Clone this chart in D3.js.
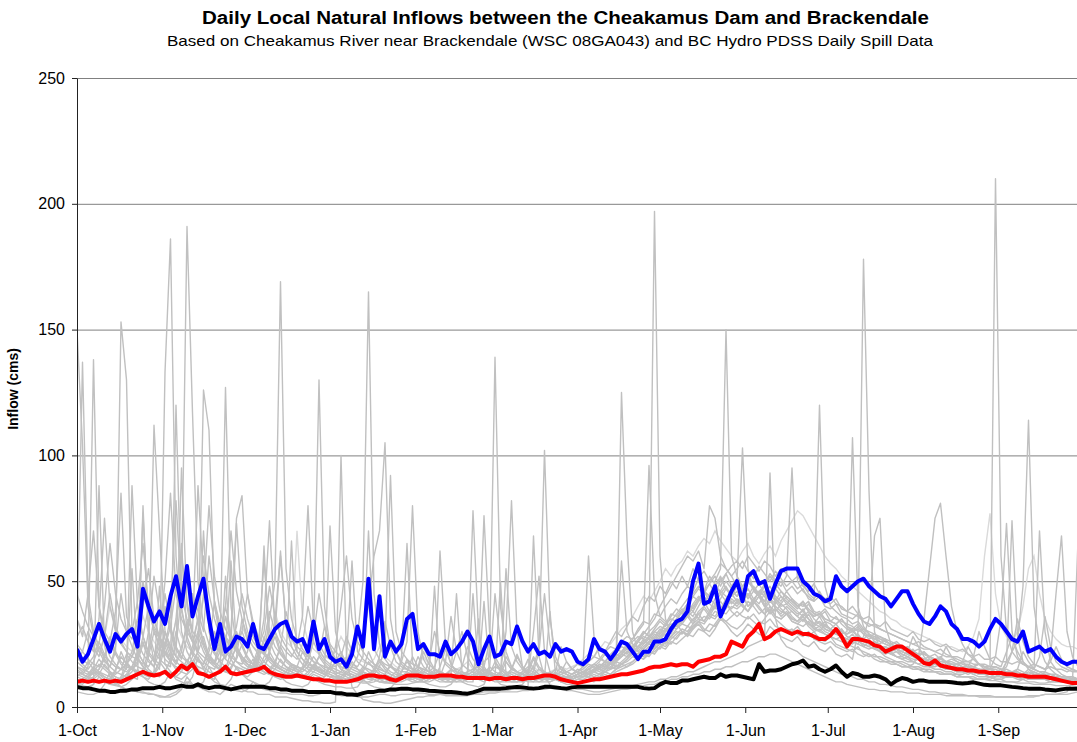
<!DOCTYPE html>
<html>
<head>
<meta charset="utf-8">
<script src="https://cdn.jsdelivr.net/npm/d3@7"></script>
<style>
  body { margin: 0; background: #fff; }
  svg text { font-family: "Liberation Sans", Arial, sans-serif; }
</style>
</head>
<body>
<svg id="chart" width="1077" height="742"></svg>
<script>
// water year Oct 1 .. Sep 30, values read every 2nd day (day 0, 2, 4 ... 364)
const step = 2
const monthDays = [0, 31, 61, 92, 123, 151, 182, 212, 243, 273, 304, 335]
const monthLabels = ['1-Oct', '1-Nov', '1-Dec', '1-Jan', '1-Feb', '1-Mar', '1-Apr', '1-May', '1-Jun', '1-Jul', '1-Aug', '1-Sep']
const yTicks = [0, 50, 100, 150, 200, 250]

const blueSeries = [
  23, 18, 21, 27, 33, 27, 22, 29, 26, 29,
  31, 24, 47, 40, 34, 38, 33, 44, 52, 40,
  56, 36, 44, 51, 35, 23, 33, 22, 24, 28,
  27, 24, 33, 24, 23, 27, 31, 33, 34, 28,
  26, 27, 22, 34, 23, 27, 20, 18, 19, 16,
  21, 32, 24, 51, 23, 44, 20, 26, 22, 25,
  35, 37, 23, 25, 21, 21, 20, 26, 21, 23,
  26, 30, 26, 17, 23, 28, 20, 21, 26, 25,
  32, 26, 22, 25, 21, 22, 20, 25, 22, 23,
  22, 18, 17, 19, 27, 23, 22, 19, 22, 26,
  25, 22, 19, 22, 22, 26, 26, 27, 31, 34,
  35, 38, 50, 57, 41, 42, 48, 36, 41, 46,
  50, 42, 52, 54, 49, 50, 43, 49, 54, 55,
  55, 55, 50, 48, 45, 44, 42, 43, 52, 48,
  46, 48, 50, 51, 48, 46, 44, 43, 40, 43,
  46, 46, 41, 37, 34, 33, 36, 40, 38, 33,
  31, 27, 27, 26, 24, 26, 31, 35, 33, 30,
  27, 26, 30, 22, 23, 24, 22, 23, 20, 18,
  17, 18, 18
]

const redSeries = [
  10, 10.5, 10, 10.5, 10, 10.5, 10, 10.5, 10, 11,
  12, 13, 14, 13, 12.5, 13, 14, 12, 14, 16.5,
  15, 17, 13.5, 13, 12, 13, 14, 16, 13.5, 13,
  13.5, 14, 14.5, 15, 16, 14, 13, 12.5, 12, 12,
  12.5, 12, 11.5, 11, 11, 10.5, 10.5, 10, 10, 10,
  10.5, 11, 12, 12.5, 12.5, 12, 12, 11, 10.5, 11.5,
  12.5, 12.5, 12.5, 12, 12, 12, 12.5, 12.5, 12.5, 12,
  12, 11.5, 11.5, 11.5, 11.5, 11, 11.5, 11.5, 11, 11.5,
  11.5, 11, 11.5, 11.5, 12, 12.5, 12.5, 12, 11, 10.5,
  10, 9.5, 10, 10.5, 11, 11, 11.5, 12, 12.5, 13,
  13, 13.5, 14, 14.5, 15.5, 16, 16, 16.5, 17, 16.5,
  17, 17, 16, 18, 18.5, 19, 20, 20, 21, 26,
  25, 24, 28, 30, 33, 27, 28, 30, 31, 30,
  29, 30, 29, 29, 28, 27, 27, 28.5, 31, 28,
  24, 27, 27, 26.5, 26, 24.5, 24, 22, 23, 24,
  24, 22.5, 21, 19.5, 17.5, 17, 18.5, 16.5, 16, 15.5,
  15, 15, 14.5, 14.5, 14, 14, 13.5, 13.5, 13.5, 13,
  13, 12.5, 12.5, 12, 12, 12, 12, 11.5, 11, 10.5,
  10, 9.5, 9.5
]

const blackSeries = [
  8, 7.5, 7.5, 7, 6.5, 6.5, 6, 6, 6.5, 6.5,
  7, 7, 7.5, 7.5, 7.5, 8, 7.5, 7.5, 8, 8.5,
  8, 8, 9, 8, 7.5, 8, 8, 7.5, 7, 7.5,
  8, 8, 8, 8, 8, 7.5, 7.5, 7, 7, 6.5,
  6.5, 6.5, 6, 6, 6, 6, 6, 5.5, 5.5, 5,
  5, 4.8, 5.5, 6, 6, 6.5, 6.5, 7, 7, 7.3,
  7.3, 7, 7, 6.8, 6.5, 6.4, 6.2, 6, 6, 5.8,
  5.5, 5.3, 5.8, 6.5, 7.3, 7.3, 7.3, 7.3, 7.5, 7.8,
  8, 7.8, 7.5, 7.3, 7.5, 8, 8, 7.8, 7.5, 7.3,
  7.8, 8, 8, 8, 8, 8, 8, 8, 8, 8,
  8, 8, 8, 7.5, 7.3, 7.5, 9, 10, 9.5, 9.5,
  10.5, 10.5, 11, 11.5, 12, 11.5, 11.5, 13, 12, 12.5,
  12.5, 12, 11.5, 11, 17, 14, 14.5, 14.5, 15, 16,
  17, 17.5, 18.5, 16, 16.5, 15, 14, 15, 16.5, 14,
  12, 13.5, 13, 12, 12, 12.5, 12, 11, 9, 10.5,
  11.5, 11, 10, 10.5, 10.5, 10, 10, 10, 10, 9.8,
  9.5, 9.3, 9.5, 9.8, 9.3, 8.8, 8.6, 8.6, 8.6, 8.3,
  8, 7.8, 7.5, 7.3, 7.3, 7.3, 7, 6.8, 6.6, 7,
  7.3, 7.3, 7.3
]

// individual years (grey)
const year01 = [
  150, 104, 40, 28, 22, 18, 16, 24, 45, 30,
  24, 19, 17, 30, 52, 38, 27, 22, 35, 60,
  42, 30, 88, 50, 34, 26, 22, 19, 30, 75,
  84, 45, 32, 26, 22, 19, 17, 24, 38, 28,
  22, 19, 16, 15, 20, 32, 24, 18, 15, 14,
  13, 12, 15, 22, 17, 14, 13, 12, 11, 14,
  19, 15, 13, 12, 11, 12, 16, 23, 17, 14,
  13, 12, 11, 13, 42, 14, 12, 11, 12, 15,
  21, 16, 13, 12, 11, 12, 14, 13, 12, 11,
  11, 12, 13, 15, 14, 13, 15, 18, 16, 17,
  19, 22, 26, 30, 28, 197, 60, 35, 30, 33,
  36, 40, 38, 42, 46, 44, 48, 52, 47, 44,
  48, 45, 40, 42, 46, 44, 40, 38, 41, 39,
  36, 34, 37, 35, 32, 30, 33, 31, 29, 28,
  27, 29, 26, 25, 24, 26, 23, 22, 21, 22,
  20, 19, 18, 19, 17, 16, 17, 16, 15, 15,
  14, 14, 13, 14, 13, 13, 12, 12, 14, 18,
  22, 26, 48, 114, 40, 24, 18, 15, 13, 12,
  12, 11, 11
]
const year02 = [
  30, 137, 45, 30, 24, 20, 18, 16, 15, 17,
  22, 35, 28, 21, 18, 24, 40, 30, 23, 19,
  28, 45, 33, 25, 21, 18, 24, 36, 26, 73,
  40, 30, 26, 23, 21, 35, 50, 169, 55, 35,
  27, 23, 20, 18, 17, 16, 15, 18, 22, 17,
  15, 14, 13, 12, 14, 18, 15, 13, 12, 12,
  11, 12, 15, 13, 12, 11, 62, 25, 17, 14,
  13, 12, 12, 11, 12, 14, 13, 12, 11, 11,
  12, 13, 15, 14, 12, 11, 11, 12, 13, 12,
  12, 13, 14, 13, 15, 16, 18, 17, 19, 21,
  23, 22, 24, 27, 25, 28, 31, 30, 34, 37,
  40, 43, 45, 48, 46, 42, 50, 55, 150, 60,
  52, 48, 50, 47, 44, 46, 43, 41, 44, 42,
  40, 38, 36, 38, 35, 33, 31, 30, 29, 31,
  28, 27, 26, 25, 24, 23, 24, 22, 21, 20,
  19, 18, 18, 17, 16, 16, 15, 15, 14, 14,
  13, 13, 14, 13, 12, 12, 12, 11, 11, 12,
  13, 15, 22, 18, 15, 70, 30, 18, 15, 13,
  12, 12, 11
]
const year03 = [
  14, 13, 16, 138, 40, 26, 20, 17, 15, 14,
  16, 20, 26, 19, 16, 28, 45, 32, 24, 20,
  18, 22, 30, 24, 19, 17, 28, 40, 29, 22,
  19, 17, 16, 22, 35, 74, 30, 22, 19, 17,
  16, 15, 19, 26, 130, 40, 24, 19, 16, 15,
  14, 13, 12, 12, 13, 16, 14, 13, 12, 12,
  13, 12, 11, 11, 12, 15, 13, 12, 11, 11,
  12, 13, 14, 20, 76, 30, 18, 15, 13, 12,
  12, 11, 11, 12, 12, 11, 11, 11, 12, 12,
  12, 12, 13, 14, 14, 16, 17, 15, 18, 20,
  22, 21, 24, 23, 26, 29, 28, 31, 33, 32,
  35, 38, 36, 40, 44, 41, 39, 43, 47, 45,
  50, 103, 55, 46, 44, 48, 52, 49, 46, 44,
  42, 40, 41, 38, 36, 37, 34, 33, 31, 30,
  29, 30, 28, 27, 26, 25, 24, 24, 23, 22,
  21, 20, 19, 19, 18, 17, 17, 16, 16, 15,
  15, 14, 14, 13, 14, 13, 13, 12, 12, 12,
  12, 11, 11, 12, 13, 12, 14, 20, 45, 68,
  30, 20, 16
]
const year04 = [
  8, 7, 7, 9, 88, 25, 12, 9, 8, 7,
  7, 6, 6, 5, 5, 4, 4, 5, 6, 8,
  10, 9, 8, 7, 6, 6, 5, 7, 9, 8,
  7, 6, 6, 5, 5, 5, 4, 4, 4, 3.5,
  3, 2.5, 2.5, 2, 2, 1.5, 1.5, 2, 100, 20,
  8, 5, 3, 2.5, 2, 2, 1.5, 1.5, 2, 2.5,
  3, 3.5, 4, 4, 4.5, 4.5, 5, 5, 5, 5,
  5, 5, 5.5, 5.5, 6, 6, 6, 6.5, 6.5, 7,
  7, 7, 7.5, 68, 20, 12, 9, 8, 8, 7.5,
  7.5, 7, 7, 6.5, 6, 6, 6.5, 7, 7.5, 8,
  8, 8.5, 9, 9.5, 10, 10, 11, 11, 12, 12,
  13, 14, 14, 15, 16, 17, 18, 18, 19, 20,
  21, 22, 24, 25, 26, 27, 93, 35, 27, 24,
  23, 22, 20, 19, 18, 17, 16, 15, 14, 13,
  13, 12, 11, 11, 10, 10, 9, 9, 8.5, 8,
  8, 7.5, 7, 7, 6.5, 6, 6, 5.5, 5.5, 5,
  5, 5, 4.5, 4.5, 4.5, 4.5, 4.5, 4, 4, 4,
  4, 4, 4, 4, 4, 4.5, 5, 5, 5, 5.5,
  6, 10, 66
]
const year05 = [
  20, 17, 15, 18, 24, 19, 16, 22, 153, 130,
  30, 22, 18, 16, 20, 28, 22, 18, 16, 15,
  17, 24, 35, 26, 20, 18, 16, 15, 22, 30,
  24, 19, 17, 16, 18, 22, 28, 21, 18, 16,
  15, 14, 16, 20, 17, 15, 14, 13, 14, 18,
  24, 28, 50, 165, 45, 25, 19, 16, 14, 13,
  12, 12, 13, 15, 14, 12, 11, 11, 12, 13,
  14, 13, 12, 12, 13, 16, 14, 13, 12, 12,
  13, 14, 16, 15, 13, 12, 38, 13, 14, 13,
  12, 13, 14, 15, 17, 16, 18, 20, 19, 58,
  30, 25, 24, 26, 28, 27, 30, 33, 31, 35,
  38, 36, 40, 43, 41, 45, 48, 46, 50, 47,
  44, 48, 51, 47, 45, 49, 53, 50, 48, 52,
  95, 50, 46, 44, 42, 120, 48, 40, 38, 36,
  35, 33, 34, 31, 30, 29, 28, 27, 26, 25,
  24, 23, 22, 21, 21, 20, 19, 18, 18, 17,
  17, 16, 16, 15, 15, 14, 14, 14, 13, 13,
  13, 12, 13, 15, 14, 13, 12, 12, 11, 11,
  11, 10, 10
]
const year06 = [
  12, 11, 13, 16, 14, 12, 11, 15, 20, 17,
  15, 18, 25, 20, 112, 70, 30, 22, 18, 16,
  15, 20, 28, 22, 18, 16, 15, 14, 19, 24,
  20, 17, 15, 14, 16, 20, 17, 15, 14, 13,
  13, 12, 14, 17, 15, 13, 12, 12, 11, 13,
  16, 20, 28, 40, 60, 70, 105, 35, 22, 17,
  15, 14, 13, 12, 12, 13, 12, 11, 11, 12,
  11, 11, 12, 13, 12, 11, 12, 50, 13, 12,
  12, 11, 12, 13, 12, 12, 13, 12, 11, 12,
  12, 13, 14, 13, 15, 17, 16, 18, 21, 20,
  22, 24, 26, 29, 32, 35, 40, 44, 48, 52,
  56, 60, 58, 62, 55, 80, 75, 60, 55, 52,
  48, 45, 50, 47, 44, 42, 46, 43, 40, 41,
  39, 37, 38, 35, 33, 34, 32, 31, 30, 29,
  30, 107, 40, 32, 29, 27, 26, 25, 24, 23,
  22, 21, 20, 20, 19, 18, 18, 17, 16, 16,
  15, 15, 14, 14, 14, 13, 13, 13, 12, 12,
  12, 12, 11, 12, 11, 11, 11, 10, 10, 10,
  10, 10, 10
]
const year07 = [
  18, 16, 14, 13, 15, 20, 26, 21, 17, 15,
  88, 40, 28, 22, 19, 17, 30, 24, 20, 18,
  16, 18, 22, 28, 20, 17, 15, 14, 16, 19,
  25, 20, 17, 15, 14, 13, 15, 19, 16, 14,
  13, 12, 12, 14, 16, 14, 13, 12, 12, 11,
  11, 12, 14, 13, 12, 11, 11, 12, 14, 18,
  26, 80, 30, 19, 15, 13, 12, 12, 11, 11,
  12, 11, 11, 12, 13, 12, 11, 12, 13, 12,
  11, 12, 13, 12, 11, 11, 12, 13, 12, 12,
  13, 14, 13, 15, 16, 15, 17, 19, 18, 21,
  24, 27, 30, 33, 96, 45, 36, 34, 31, 33,
  30, 28, 31, 33, 30, 28, 31, 35, 33, 30,
  28, 30, 33, 31, 29, 28, 32, 30, 28, 27,
  26, 28, 25, 24, 26, 23, 22, 24, 21, 20,
  21, 19, 30, 178, 86, 30, 22, 20, 19, 18,
  18, 17, 16, 16, 15, 15, 14, 14, 13, 13,
  13, 12, 12, 12, 11, 11, 12, 11, 11, 10,
  10, 10, 11, 10, 10, 9.5, 9.5, 10, 11, 10,
  10, 9.5, 9.5
]
const year08 = [
  10, 9, 11, 14, 12, 10, 9, 9, 11, 13,
  12, 11, 80, 30, 18, 15, 133, 186, 60, 30,
  22, 18, 16, 15, 20, 17, 15, 14, 13, 13,
  13, 15, 19, 16, 14, 13, 12, 12, 14, 17,
  15, 13, 12, 11, 11, 10, 10, 11, 12, 11,
  10, 10, 9.5, 9.5, 10, 11, 10, 9.5, 9, 9,
  9, 9.5, 10, 10, 11, 12, 11, 10, 10, 11,
  12, 14, 78, 30, 16, 13, 12, 11, 11, 10,
  10, 10, 11, 11, 10, 10, 10, 11, 11, 10,
  10, 11, 11, 12, 11, 12, 13, 12, 14, 15,
  16, 17, 19, 21, 20, 23, 25, 24, 27, 29,
  31, 30, 33, 35, 34, 37, 36, 39, 41, 38,
  36, 38, 42, 40, 37, 39, 42, 40, 38, 37,
  35, 34, 36, 33, 32, 34, 31, 30, 29, 28,
  27, 26, 25, 28, 35, 68, 75, 32, 25, 23,
  22, 21, 20, 19, 19, 18, 17, 17, 16, 16,
  15, 15, 14, 14, 14, 13, 13, 13, 12, 12,
  12, 12, 12, 11, 11, 11, 12, 12, 11, 11,
  11, 10, 10
]
const year09 = [
  25, 22, 19, 17, 16, 20, 28, 22, 18, 16,
  15, 17, 77, 30, 22, 19, 17, 16, 120, 40,
  26, 21, 18, 17, 22, 30, 24, 19, 17, 16,
  15, 14, 16, 21, 18, 16, 15, 14, 13, 13,
  12, 12, 13, 16, 14, 13, 12, 11, 11, 10,
  10, 11, 12, 11, 11, 10, 10, 11, 12, 12,
  12, 13, 14, 13, 12, 12, 11, 11, 12, 12,
  13, 14, 15, 16, 18, 20, 139, 40, 22, 16,
  14, 13, 12, 12, 13, 12, 11, 11, 12, 12,
  11, 12, 12, 13, 12, 13, 14, 13, 15, 16,
  17, 18, 20, 19, 21, 22, 24, 23, 26, 25,
  27, 29, 28, 31, 30, 33, 32, 35, 34, 36,
  38, 36, 35, 37, 34, 33, 35, 32, 31, 30,
  31, 29, 28, 30, 27, 26, 25, 26, 24, 23,
  22, 23, 21, 20, 21, 19, 18, 18, 17, 17,
  16, 16, 17, 20, 35, 55, 75, 81, 60, 40,
  30, 25, 21, 19, 17, 16, 15, 14, 14, 13,
  13, 12, 12, 12, 11, 11, 11, 10, 10, 10,
  10, 10, 9.5
]
const year10 = [
  16, 14, 13, 15, 19, 16, 14, 13, 15, 21,
  18, 16, 15, 22, 35, 27, 21, 18, 24, 45,
  191, 117, 50, 32, 25, 21, 18, 20, 26, 22,
  19, 17, 16, 15, 20, 26, 21, 18, 16, 15,
  14, 15, 18, 16, 14, 13, 12, 12, 13, 12,
  11, 11, 12, 13, 12, 11, 11, 10, 10, 11,
  12, 12, 11, 11, 12, 13, 12, 11, 11, 12,
  12, 13, 12, 14, 13, 12, 12, 14, 30, 82,
  30, 16, 13, 12, 12, 12, 11, 11, 12, 12,
  12, 13, 12, 14, 15, 14, 16, 17, 16, 18,
  20, 22, 21, 24, 26, 25, 28, 30, 32, 35,
  38, 41, 44, 47, 45, 49, 52, 48, 53, 56,
  58, 55, 60, 57, 54, 58, 56, 52, 55, 53,
  50, 52, 48, 46, 49, 45, 43, 44, 41, 40,
  38, 37, 36, 34, 33, 32, 31, 30, 29, 28,
  27, 26, 25, 24, 23, 23, 22, 21, 20, 20,
  19, 18, 18, 17, 17, 16, 16, 210, 60, 30,
  22, 19, 17, 16, 15, 14, 13, 13, 12, 12,
  12, 11, 11
]
const year11 = [
  22, 19, 17, 20, 26, 21, 18, 16, 15, 17,
  20, 26, 21, 18, 16, 22, 30, 24, 20, 95,
  40, 28, 22, 126, 110, 40, 28, 22, 19, 24,
  30, 24, 20, 18, 16, 15, 18, 24, 19, 17,
  16, 15, 14, 16, 20, 17, 15, 14, 13, 13,
  12, 13, 16, 14, 13, 12, 12, 11, 12, 14,
  18, 15, 13, 12, 12, 48, 14, 13, 12, 12,
  11, 12, 13, 12, 12, 14, 16, 15, 13, 12,
  12, 12, 13, 16, 24, 102, 35, 20, 15, 13,
  12, 13, 14, 13, 15, 17, 16, 18, 20, 22,
  24, 23, 26, 28, 27, 30, 32, 31, 29, 33,
  35, 37, 34, 38, 40, 37, 41, 39, 43, 45,
  42, 44, 47, 43, 41, 45, 48, 44, 42, 46,
  43, 41, 40, 42, 38, 37, 39, 36, 35, 34,
  33, 32, 30, 31, 29, 28, 27, 26, 25, 24,
  24, 23, 22, 21, 21, 20, 19, 19, 18, 17,
  17, 16, 16, 16, 15, 15, 15, 20, 35, 73,
  30, 20, 17, 16, 15, 14, 14, 13, 13, 12,
  12, 12, 11
]
const year12 = [
  14, 13, 12, 14, 17, 15, 13, 12, 11, 13,
  16, 14, 13, 12, 14, 18, 15, 13, 12, 14,
  19, 16, 14, 13, 18, 26, 22, 127, 40, 24,
  18, 16, 15, 14, 13, 14, 17, 15, 14, 13,
  12, 12, 11, 13, 12, 11, 11, 10, 10, 11,
  12, 11, 10, 10, 11, 10, 9.5, 9.5, 10, 10,
  11, 10, 10, 11, 12, 11, 10, 10, 10, 11,
  11, 10, 10, 35, 11, 12, 11, 10, 10, 10,
  10, 11, 11, 10, 10, 11, 12, 11, 10, 10,
  10, 11, 12, 12, 13, 12, 14, 15, 16, 125,
  66, 30, 22, 20, 22, 21, 24, 26, 25, 28,
  30, 29, 32, 34, 31, 30, 33, 36, 34, 32,
  31, 33, 36, 34, 32, 35, 38, 35, 33, 31,
  30, 32, 29, 28, 30, 27, 26, 28, 25, 24,
  23, 22, 24, 21, 20, 21, 19, 18, 18, 17,
  16, 16, 15, 15, 14, 14, 14, 13, 13, 13,
  12, 12, 12, 11, 11, 11, 11, 12, 13, 18,
  74, 28, 18, 15, 13, 12, 12, 11, 11, 11,
  10, 10, 10
]
const year13 = [
  35, 30, 26, 24, 22, 28, 40, 32, 27, 24,
  22, 28, 36, 30, 26, 23, 21, 26, 34, 28,
  24, 22, 30, 45, 35, 28, 25, 23, 21, 26,
  32, 27, 24, 22, 21, 28, 38, 30, 26, 24,
  70, 35, 26, 23, 21, 20, 19, 22, 28, 24,
  21, 19, 18, 17, 19, 24, 20, 18, 16, 15,
  15, 14, 16, 20, 17, 15, 14, 13, 14, 15,
  16, 18, 15, 14, 13, 14, 16, 15, 14, 13,
  14, 15, 18, 16, 14, 13, 14, 15, 16, 15,
  16, 17, 19, 21, 20, 23, 26, 25, 28, 31,
  33, 36, 40, 44, 42, 46, 50, 55, 52, 56,
  58, 62, 60, 64, 67, 65, 70, 66, 63, 60,
  58, 62, 65, 60, 57, 61, 64, 60, 66, 70,
  74, 78, 76, 72, 68, 64, 60, 57, 55, 52,
  50, 48, 46, 44, 42, 40, 38, 37, 35, 34,
  32, 31, 30, 29, 28, 27, 26, 25, 24, 24,
  23, 22, 24, 28, 35, 60, 77, 45, 32, 28,
  26, 30, 40, 55, 60, 45, 35, 30, 27, 25,
  24, 24, 23
]
const year14 = [
  6, 5.5, 5, 5, 6, 9, 14, 10, 8, 7,
  6.5, 6, 5.5, 5.5, 5, 4.5, 4, 4, 5, 7,
  12, 9, 8, 10, 16, 12, 9, 8, 7, 6.5,
  6, 7, 10, 8, 7, 6.5, 6, 5.5, 5.5, 5,
  5, 5, 4.5, 4.5, 5, 6, 5.5, 5, 4.5, 4.5,
  4.5, 4, 4, 4, 4.5, 5, 5, 4.5, 4.5, 5,
  5, 5, 5.5, 5.5, 5, 5, 5, 4.5, 4.5, 4.5,
  4.5, 4.5, 5, 5, 5, 5.5, 5.5, 6, 6, 6,
  6, 6.5, 6.5, 7, 7, 7, 7.5, 7, 7, 6.5,
  6.5, 6, 5.5, 5, 5, 5, 5.5, 6, 6.5, 7,
  7, 7.5, 8, 8.5, 9, 9, 10, 10, 11, 11,
  12, 12, 13, 13, 14, 14, 15, 15, 16, 16,
  17, 18, 18, 19, 20, 20, 21, 21, 20, 19,
  18, 17, 16, 15, 14, 13, 12, 11, 10, 10,
  9, 8.5, 8, 7.5, 7, 7, 6.5, 6.5, 6, 6,
  6, 5.5, 5.5, 5.5, 5, 5, 5, 5, 4.5, 4.5,
  4.5, 4.5, 4.5, 4.5, 4, 4, 4, 4, 4, 4,
  4, 4, 4, 4.5, 4.5, 4.5, 5, 5, 5, 5,
  5, 5.5, 6
]
const year15 = [
  35, 28, 45, 70, 40, 30, 26, 38, 85, 36,
  30, 42, 65, 40, 32, 28, 50, 85, 45, 35,
  30, 45, 38, 30, 60, 42, 33, 28, 25, 32,
  45, 35, 28, 24, 30, 48, 36, 28, 24, 21,
  19, 25, 40, 30, 23, 19, 17, 16, 20, 28,
  22, 18, 16, 15, 14, 20, 34, 24, 18, 16,
  15, 14, 16, 24, 19, 15, 14, 13, 15, 22,
  30, 20, 16, 14, 13, 15, 45, 25, 18, 15,
  14, 13, 15, 20, 16, 14, 13, 12, 14, 18,
  15, 14, 16, 18, 20, 24, 22, 26, 30, 28,
  32, 36, 34, 40, 44, 42, 48, 45, 50, 47,
  52, 48, 55, 50, 46, 52, 49, 45, 48, 44,
  46, 42, 45, 41, 44, 40, 43, 39, 37, 40,
  38, 36, 39, 35, 33, 36, 32, 31, 33, 30,
  29, 31, 28, 27, 29, 26, 25, 27, 24, 23,
  22, 24, 21, 20, 22, 19, 18, 20, 17, 17,
  16, 18, 24, 20, 17, 16, 15, 15, 14, 16,
  22, 35, 26, 20, 17, 16, 15, 18, 24, 19,
  16, 15, 14
]
const year16 = [
  12, 14, 18, 15, 13, 12, 11, 14, 22, 17,
  15, 14, 13, 20, 30, 24, 19, 17, 26, 65,
  28, 22, 19, 17, 24, 42, 30, 23, 20, 18,
  17, 22, 34, 26, 21, 18, 16, 15, 19, 66,
  22, 19, 17, 16, 15, 14, 72, 30, 21, 18,
  16, 15, 14, 13, 15, 19, 16, 14, 13, 13,
  12, 14, 20, 16, 14, 13, 12, 18, 36, 22,
  17, 15, 14, 13, 16, 26, 20, 16, 14, 13,
  12, 14, 19, 15, 13, 12, 11, 13, 16, 14,
  13, 14, 15, 17, 16, 18, 21, 19, 22, 24,
  23, 26, 28, 27, 30, 32, 35, 33, 37, 36,
  39, 37, 41, 44, 42, 38, 43, 46, 44, 41,
  43, 40, 38, 42, 39, 37, 40, 36, 35, 37,
  34, 33, 35, 32, 30, 31, 29, 28, 27, 28,
  26, 25, 27, 24, 23, 24, 22, 21, 22, 20,
  19, 20, 18, 17, 18, 16, 16, 17, 15, 15,
  14, 14, 15, 14, 13, 13, 14, 13, 12, 12,
  12, 13, 12, 11, 12, 11, 11, 12, 11, 11,
  10, 11, 10
]
const year17 = [
  18, 22, 30, 24, 20, 28, 45, 32, 26, 22,
  20, 26, 40, 55, 35, 28, 24, 32, 48, 38,
  30, 26, 35, 60, 45, 35, 28, 40, 70, 46,
  35, 28, 24, 21, 26, 38, 30, 25, 22, 20,
  24, 36, 80, 32, 25, 21, 19, 18, 17, 20,
  58, 22, 19, 17, 16, 15, 14, 16, 22, 18,
  16, 15, 14, 13, 18, 30, 22, 17, 15, 14,
  13, 12, 13, 15, 14, 13, 12, 14, 20, 16,
  14, 13, 12, 14, 22, 45, 25, 18, 15, 14,
  13, 15, 14, 16, 17, 19, 18, 21, 23, 22,
  25, 24, 27, 30, 28, 31, 34, 32, 36, 39,
  37, 40, 44, 42, 46, 49, 45, 50, 53, 48,
  51, 47, 44, 48, 45, 42, 46, 43, 41, 44,
  42, 40, 38, 41, 37, 36, 38, 34, 33, 35,
  32, 31, 33, 30, 28, 29, 27, 26, 25, 26,
  24, 23, 22, 23, 21, 20, 21, 19, 18, 19,
  18, 17, 17, 16, 17, 16, 15, 16, 15, 14,
  14, 15, 14, 13, 14, 13, 13, 12, 13, 12,
  12, 12, 11
]
const year18 = [
  15, 13, 12, 11, 13, 17, 14, 12, 11, 16,
  55, 19, 16, 14, 13, 18, 26, 20, 17, 22,
  34, 26, 21, 18, 16, 15, 19, 28, 22, 18,
  16, 15, 14, 18, 64, 20, 17, 15, 14, 13,
  13, 16, 22, 18, 15, 14, 13, 12, 12, 14,
  18, 15, 13, 12, 12, 11, 13, 17, 14, 12,
  11, 11, 12, 14, 13, 12, 11, 11, 13, 45,
  14, 12, 11, 12, 15, 13, 12, 11, 12, 14,
  13, 12, 14, 19, 15, 13, 12, 14, 24, 18,
  15, 14, 16, 60, 28, 20, 18, 17, 19, 21,
  20, 23, 22, 25, 27, 26, 29, 31, 30, 34,
  33, 36, 38, 35, 40, 43, 41, 45, 42, 46,
  44, 47, 43, 46, 49, 45, 42, 47, 44, 41,
  43, 40, 42, 39, 37, 38, 35, 34, 36, 33,
  31, 30, 32, 29, 27, 28, 26, 25, 24, 23,
  22, 21, 23, 20, 19, 20, 18, 17, 18, 16,
  16, 15, 15, 14, 15, 14, 13, 14, 13, 13,
  12, 13, 12, 12, 11, 12, 11, 11, 12, 11,
  11, 10, 11
]
const year19 = [
  45, 38, 32, 28, 25, 40, 65, 45, 35, 30,
  27, 35, 50, 38, 31, 27, 24, 36, 82, 44,
  35, 30, 27, 44, 80, 52, 38, 31, 27, 25,
  30, 45, 34, 28, 25, 23, 30, 60, 32, 27,
  24, 22, 20, 28, 45, 32, 25, 22, 20, 18,
  17, 16, 20, 70, 23, 19, 17, 16, 15, 14,
  14, 13, 15, 22, 17, 15, 14, 13, 12, 13,
  16, 24, 19, 16, 14, 13, 12, 13, 18, 15,
  14, 13, 12, 13, 15, 14, 13, 12, 13, 14,
  15, 17, 16, 18, 20, 19, 22, 24, 23, 26,
  28, 27, 31, 34, 33, 37, 36, 40, 43, 41,
  45, 48, 46, 51, 54, 50, 53, 57, 55, 52,
  55, 58, 54, 51, 56, 53, 50, 54, 51, 48,
  50, 47, 49, 45, 43, 46, 42, 41, 43, 39,
  38, 40, 37, 35, 36, 33, 32, 34, 31, 30,
  29, 28, 30, 27, 26, 27, 25, 24, 25, 23,
  22, 23, 21, 20, 21, 19, 19, 20, 18, 18,
  17, 18, 17, 16, 17, 16, 15, 16, 15, 15,
  14, 15, 14
]
const year20 = [
  9, 8.5, 8, 9, 12, 10, 9, 8.5, 8, 9,
  11, 15, 12, 10, 9, 8.5, 10, 14, 11, 10,
  9, 12, 20, 15, 12, 10, 9, 8.5, 11, 16,
  13, 11, 10, 9, 8.5, 10, 14, 12, 10, 9,
  8.5, 8, 9, 12, 10, 9, 8.5, 8, 8, 7.5,
  7.5, 8, 11, 9, 8, 7.5, 7, 7.5, 10, 20,
  65, 18, 12, 10, 9, 8.5, 8, 8, 9, 12,
  10, 9, 8.5, 8, 9, 14, 11, 9, 8.5, 8,
  8.5, 9, 12, 30, 52, 22, 14, 11, 10, 9,
  9, 9.5, 10, 11, 10, 12, 14, 13, 15, 17,
  16, 18, 20, 19, 22, 24, 23, 26, 28, 27,
  30, 29, 32, 34, 33, 36, 35, 38, 37, 40,
  39, 41, 38, 42, 40, 37, 39, 36, 35, 37,
  34, 33, 32, 34, 31, 30, 29, 28, 27, 26,
  25, 24, 23, 22, 21, 20, 20, 19, 18, 18,
  17, 16, 16, 15, 15, 14, 14, 13, 13, 13,
  12, 12, 12, 11, 11, 11, 10.5, 10.5, 10, 10,
  10, 9.5, 9.5, 9.5, 9, 9, 9, 9, 8.5, 8.5,
  8.5, 8.5, 8
]
const year21 = [
  16, 15, 14, 13, 15, 19, 16, 14, 13, 12,
  14, 20, 16, 14, 13, 16, 24, 18, 15, 14,
  13, 15, 19, 16, 14, 13, 15, 22, 58, 24,
  20, 17, 15, 18, 28, 22, 18, 16, 15, 14,
  16, 22, 18, 15, 14, 13, 16, 24, 40, 60,
  35, 26, 22, 19, 17, 16, 24, 92, 30, 22,
  19, 17, 16, 15, 14, 16, 22, 18, 16, 15,
  14, 13, 14, 17, 15, 14, 13, 12, 13, 15,
  20, 16, 14, 13, 12, 12, 13, 15, 14, 13,
  12, 13, 14, 13, 15, 16, 15, 17, 18, 20,
  22, 21, 23, 26, 25, 28, 27, 30, 32, 31,
  34, 36, 33, 37, 39, 36, 40, 42, 39, 43,
  41, 44, 40, 43, 45, 41, 38, 42, 39, 37,
  38, 36, 34, 37, 33, 32, 34, 30, 29, 31,
  28, 27, 29, 26, 25, 26, 24, 23, 22, 23,
  21, 20, 21, 19, 18, 19, 17, 17, 16, 16,
  15, 15, 14, 15, 14, 13, 14, 13, 13, 12,
  12, 13, 12, 12, 11, 12, 11, 11, 11, 10,
  10, 11, 10
]
const year22 = [
  11, 10, 12, 15, 13, 11, 10, 9.5, 12, 18,
  15, 13, 12, 11, 14, 48, 17, 14, 12, 11,
  13, 18, 15, 13, 12, 11, 16, 52, 19, 15,
  13, 12, 14, 20, 16, 14, 12, 11, 12, 16,
  14, 12, 11, 11, 10, 12, 16, 13, 11, 10,
  10, 11, 14, 12, 11, 10, 10, 9.5, 10, 13,
  12, 11, 10, 10, 11, 14, 12, 11, 10, 10,
  11, 12, 45, 14, 12, 11, 10, 10, 11, 12,
  11, 10, 11, 13, 12, 11, 10, 11, 12, 11,
  11, 12, 13, 12, 14, 15, 14, 16, 18, 17,
  19, 21, 20, 23, 25, 24, 27, 29, 28, 31,
  33, 32, 35, 37, 34, 38, 40, 37, 41, 39,
  42, 40, 38, 41, 44, 40, 37, 39, 36, 38,
  35, 34, 36, 33, 31, 32, 30, 29, 31, 28,
  27, 26, 25, 24, 26, 23, 22, 24, 21, 20,
  20, 22, 28, 24, 20, 18, 17, 19, 24, 20,
  18, 17, 16, 20, 30, 24, 19, 17, 16, 22,
  28, 22, 18, 16, 15, 20, 36, 24, 18, 16,
  15, 14, 14
]
const year23 = [
  13, 12, 11, 12, 14, 13, 12, 11, 10, 12,
  16, 22, 18, 15, 13, 12, 14, 19, 30, 22,
  18, 16, 22, 70, 30, 22, 18, 16, 15, 20,
  35, 26, 20, 17, 15, 22, 34, 62, 32, 24,
  20, 17, 15, 14, 13, 12, 14, 18, 15, 13,
  12, 11, 11, 12, 15, 13, 12, 11, 10, 11,
  13, 12, 11, 10, 10, 11, 14, 12, 11, 10,
  10, 11, 12, 11, 10, 13, 18, 14, 12, 11,
  10, 11, 10, 10, 12, 14, 12, 11, 10, 11,
  11, 12, 12, 13, 14, 13, 15, 16, 15, 17,
  18, 20, 19, 22, 24, 23, 26, 25, 28, 30,
  29, 32, 31, 34, 36, 35, 38, 37, 40, 42,
  40, 43, 45, 42, 46, 48, 44, 47, 50, 46,
  48, 45, 47, 43, 42, 44, 40, 39, 41, 37,
  36, 35, 37, 34, 32, 33, 31, 30, 29, 28,
  27, 26, 25, 26, 24, 23, 22, 23, 21, 20,
  20, 19, 18, 19, 17, 17, 16, 16, 15, 15,
  14, 14, 13, 14, 13, 13, 12, 12, 12, 11,
  11, 11, 11
]
const year24 = [
  28, 32, 26, 22, 35, 75, 40, 30, 25, 22,
  20, 19, 28, 40, 30, 25, 22, 20, 18, 24,
  32, 26, 22, 20, 18, 17, 22, 36, 28, 23,
  20, 18, 17, 24, 58, 30, 24, 21, 19, 17,
  16, 15, 18, 26, 21, 18, 16, 15, 14, 13,
  13, 12, 14, 18, 15, 13, 12, 12, 11, 12,
  14, 20, 16, 14, 13, 12, 11, 12, 15, 13,
  12, 11, 12, 14, 13, 12, 11, 12, 55, 24,
  18, 15, 13, 12, 11, 12, 13, 12, 11, 12,
  12, 13, 14, 15, 14, 16, 18, 17, 20, 22,
  21, 24, 26, 25, 28, 30, 29, 33, 35, 34,
  38, 41, 39, 43, 46, 44, 48, 51, 47, 45,
  49, 46, 50, 47, 44, 48, 45, 42, 46, 43,
  41, 39, 42, 38, 36, 37, 35, 34, 33, 35,
  32, 30, 31, 29, 28, 27, 28, 26, 25, 24,
  23, 24, 22, 21, 22, 20, 19, 20, 18, 18,
  17, 18, 16, 16, 17, 15, 15, 14, 15, 14,
  13, 14, 13, 13, 12, 13, 12, 12, 11, 11,
  11, 11, 11
]
const greyYears = [year01, year02, year03, year04, year05, year06, year07, year08, year09, year10, year11, year12,
  year14, year15, year16, year17, year18, year19, year20, year21, year22, year23, year24]
const paleYears = [year13]

const svg = d3.select('#chart')
const margin = { top: 78, right: 0, bottom: 35, left: 77 }
const W = 1077, H = 742

const x = d3.scaleLinear().domain([0, 364]).range([margin.left, 1078])
const y = d3.scaleLinear().domain([0, 250]).range([H - margin.bottom, margin.top])

// titles
svg.append('text')
  .attr('x', 202).attr('y', 24)
  .attr('textLength', 727).attr('lengthAdjust', 'spacingAndGlyphs')
  .style('font-size', '18px').style('font-weight', 'bold')
  .text('Daily Local Natural Inflows between the Cheakamus Dam and Brackendale')
svg.append('text')
  .attr('x', 167).attr('y', 46)
  .attr('textLength', 766).attr('lengthAdjust', 'spacingAndGlyphs')
  .style('font-size', '15px')
  .text('Based on Cheakamus River near Brackendale (WSC 08GA043) and BC Hydro PDSS Daily Spill Data')

// gridlines
svg.append('g')
  .attr('transform', `translate(${margin.left},0)`)
  .call(d3.axisLeft(y).tickValues(yTicks.slice(1)).tickSize(-(W - margin.left)).tickFormat(''))
  .call(g => g.select('.domain').remove())
  .call(g => g.selectAll('line').attr('stroke', '#808080'))

svg.append('defs').append('clipPath').attr('id', 'plot')
  .append('rect').attr('x', margin.left).attr('y', margin.top - 1)
  .attr('width', W - margin.left).attr('height', H - margin.bottom - margin.top + 1)

const line = d3.line()
  .x((d, i) => x(i * step))
  .y(d => y(d))

const plot = svg.append('g').attr('clip-path', 'url(#plot)')

plot.selectAll('path.pale')
  .data(paleYears)
  .join('path')
  .attr('class', 'pale')
  .attr('d', line)
  .attr('fill', 'none')
  .attr('stroke', '#dadada')
  .attr('stroke-width', 1.4)

plot.selectAll('path.grey')
  .data(greyYears)
  .join('path')
  .attr('class', 'grey')
  .attr('d', line)
  .attr('fill', 'none')
  .attr('stroke', '#c0c0c0')
  .attr('stroke-width', 1.4)
  .attr('stroke-linejoin', 'round')

const bold = [
  { values: blackSeries, color: '#000000' },
  { values: redSeries, color: '#ff0000' },
  { values: blueSeries, color: '#0000ff' }
]
plot.selectAll('path.stat')
  .data(bold)
  .join('path')
  .attr('class', 'stat')
  .attr('d', d => line(d.values))
  .attr('fill', 'none')
  .attr('stroke', d => d.color)
  .attr('stroke-width', 4)
  .attr('stroke-linejoin', 'round')

// axes
svg.append('g')
  .attr('transform', `translate(${margin.left},0)`)
  .call(d3.axisLeft(y).tickValues(yTicks).tickSize(5).tickPadding(7).tickSizeOuter(0))
  .call(g => g.select('.domain').attr('stroke', '#222'))
  .call(g => g.selectAll('line').attr('stroke', '#222'))
  .call(g => g.selectAll('text').style('font-size', '16px').attr('fill', '#000'))

svg.append('g')
  .attr('transform', `translate(0,${H - margin.bottom})`)
  .call(d3.axisBottom(x).tickValues(monthDays).tickFormat((d, i) => monthLabels[i]).tickSize(6).tickPadding(12).tickSizeOuter(0))
  .call(g => g.select('.domain').attr('stroke', '#222'))
  .call(g => g.selectAll('line').attr('stroke', '#222'))
  .call(g => g.selectAll('text').style('font-size', '16px').attr('fill', '#000'))

svg.append('text')
  .attr('transform', 'translate(18,389) rotate(-90)')
  .attr('text-anchor', 'middle')
  .style('font-size', '14px').style('font-weight', 'bold')
  .text('Inflow (cms)')
</script>
</body>
</html>
